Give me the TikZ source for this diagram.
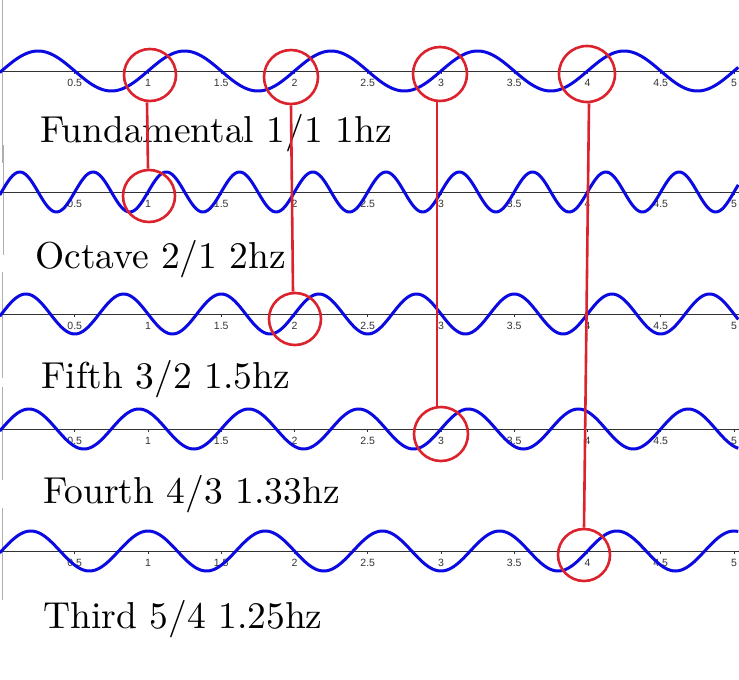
\documentclass[tikz,border=0pt]{standalone}
\usepackage{fontspec}
\newfontfamily\ticksfont{Liberation Sans}
\newfontfamily\titlefont{lmroman10-regular}[Extension=.otf]
\definecolor{wavecol}{RGB}{10,10,225}
\definecolor{ringcol}{RGB}{220,35,45}
\definecolor{edgegray}{RGB}{175,175,175}
\tikzset{
  wave/.style={wavecol, line width=3pt, line join=round},
  axisline/.style={black!80, line width=1pt},
  tickmark/.style={black!80, line width=0.7pt},
  ticklabel/.style={font=\ticksfont\fontsize{10.5}{11}\selectfont, text=black!80, inner sep=0pt, anchor=center},
  ring/.style={circle, draw=ringcol, line width=2.6pt, inner sep=0pt, minimum size=#1},
  ring/.default=53pt,
  link/.style={ringcol, line width=2.6pt},
  title/.style={font=\titlefont\fontsize{37.5}{40}\selectfont, inner sep=0pt, anchor=base west},
  panel/.style={edgegray, line width=0.8pt}
}
\begin{document}
\begin{tikzpicture}[x=1pt,y=-1pt]
\useasboundingbox (0,0) rectangle (739,680);
\fill[white] (0,0) rectangle (739,680);
% panel borders
\draw[panel] (2,0) -- (2,163);
\draw[panel] (3.5,145) -- (3.5,255);
\draw[panel] (2,272) -- (2,378);
\draw[panel] (2,387) -- (2,480);
\draw[panel] (2,508) -- (2,600);
% axes, ticks, labels
\foreach \row/\ay in {1/71, 2/192, 3/314, 4/429, 5/551} {
  \draw[axisline] (0,\ay) -- (739,\ay);
  \foreach \t in {0.5,1,1.5,2,2.5,3,3.5,4,4.5,5} {
    \draw[tickmark] ({1.5+146.5*\t},\ay) -- ({1.5+146.5*\t},\ay+3);
    \node[ticklabel] (lab\row-\t) at ({1.5+146.5*\t},\ay+12) {\t};
  }
}
% waves
\foreach \ay/\f in {71/1, 192/2, 314/1.5, 429/1.33333, 551/1.25} {
  \draw[wave] plot[domain=-0.012:5.035, samples=400, smooth] ({1.5+146.5*\x},{\ay-20*sin(360*\f*\x)});
}
% titles
\node[title] (t1) at (40,142) {Fundamental 1/1 1hz};
\node[title] (t2) at (35,268) {Octave 2/1 2hz};
\node[title] (t3) at (41,388) {Fifth 3/2 1.5hz};
\node[title] (t4) at (43,503) {Fourth 4/3 1.33hz};
\node[title] (t5) at (43,628) {Third 5/4 1.25hz};
% rings
\node[ring=52pt] (c11) at (150,75) {};
\node[ring=54pt] (c12) at (291,77) {};
\node[ring=54pt] (c13) at (440,74) {};
\node[ring=56pt] (c14) at (587,74) {};
\node[ring=52pt] (c21) at (149,196) {};
\node[ring=52pt] (c32) at (295,319) {};
\node[ring=54pt] (c43) at (441,434) {};
\node[ring=52pt] (c54) at (584,555) {};
% links
\draw[link] ([xshift=-3pt]c11.south) -- ([xshift=-1pt]c21.north);
\draw[link] (c12.south) -- ([xshift=-2pt]c32.north);
\draw[link] ([xshift=-3pt]c13.south) -- ([xshift=-4pt]c43.north);
\draw[link] ([xshift=2pt]c14.south) -- (c54.north);
\end{tikzpicture}
\end{document}
